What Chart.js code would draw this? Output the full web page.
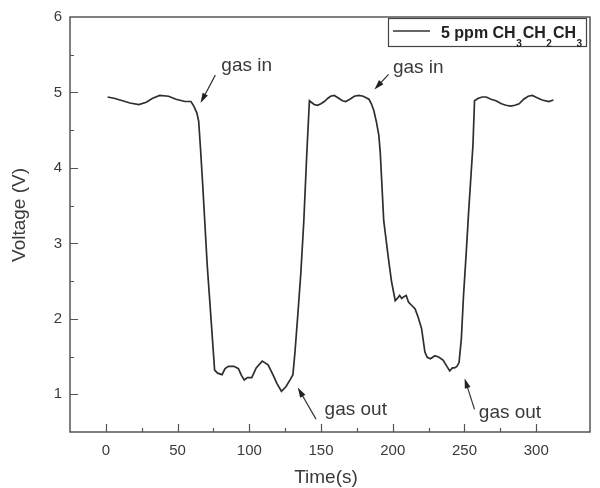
<!DOCTYPE html>
<html>
<head>
<meta charset="utf-8">
<script src="https://cdn.jsdelivr.net/npm/chart.js@4/dist/chart.umd.min.js"></script>
<style>
  html, body { margin: 0; padding: 0; background: #fff; }
</style>
</head>
<body>
<canvas id="chart" width="600" height="488"></canvas>
<script>
// sensor response
const timeSec = [
  1.2, 6.4, 11.6, 16.8, 23.0, 28.2, 32.3, 37.5, 43.7, 48.9, 55.1, 59.3, 61.3, 63.4, 64.7, 66.0, 67.5, 70.7, 73.5, 75.8,
  77.9, 81.0, 83.1, 85.5, 89.3, 92.4, 94.5, 96.5, 98.6, 101.7, 104.8, 109.0, 113.1, 116.2, 119.3, 122.4, 125.5, 128.7, 130.4, 131.8,
  133.8, 135.9, 138.0, 140.1, 141.9, 143.2, 145.2, 147.6, 149.9, 152.3, 154.6, 156.6, 159.2, 161.8, 164.9, 167.2, 170.1, 173.2, 176.3, 179.4,
  183.4, 185.1, 186.8, 188.7, 190.3, 191.3, 193.7, 197.1, 199.1, 201.7, 203.2, 204.8, 206.3, 207.5, 209.4, 211.0, 212.6, 215.6, 217.7, 220.1,
  222.4, 224.0, 226.3, 229.4, 232.3, 235.2, 237.4, 239.7, 241.6, 243.1, 244.7, 246.2, 247.8, 249.3, 251.2, 253.0, 254.7, 255.9, 257.0, 259.3,
  262.3, 265.1, 268.5, 271.9, 275.8, 278.9, 282.3, 285.1, 288.1, 291.3, 294.4, 297.3, 300.6, 304.2, 308.8, 312.0
];
const voltage = [
  4.94, 4.92, 4.89, 4.86, 4.84, 4.87, 4.92, 4.96, 4.95, 4.91, 4.88, 4.88, 4.82, 4.73, 4.62, 4.25, 3.78, 2.7, 1.95, 1.32,
  1.28, 1.26, 1.34, 1.37, 1.37, 1.34, 1.25, 1.19, 1.22, 1.22, 1.35, 1.44, 1.39, 1.27, 1.14, 1.04, 1.10, 1.20, 1.26, 1.55,
  2.05, 2.6, 3.3, 4.2, 4.89, 4.87, 4.84, 4.83, 4.85, 4.88, 4.92, 4.95, 4.96, 4.93, 4.89, 4.88, 4.91, 4.95, 4.96, 4.95,
  4.91, 4.85, 4.76, 4.6, 4.43, 4.2, 3.3, 2.78, 2.5, 2.24, 2.27, 2.31, 2.27, 2.29, 2.31, 2.22, 2.19, 2.13, 2.02, 1.87,
  1.56, 1.49, 1.47, 1.51, 1.49, 1.45, 1.38, 1.31, 1.35, 1.35, 1.37, 1.42, 1.73, 2.3, 2.87, 3.45, 3.95, 4.30, 4.89, 4.92,
  4.94, 4.94, 4.91, 4.89, 4.85, 4.83, 4.82, 4.83, 4.85, 4.91, 4.95, 4.96, 4.93, 4.90, 4.88, 4.90
];

const xLabelled = [0, 50, 100, 150, 200, 250, 300];
const yLabelled = [1, 2, 3, 4, 5, 6];

// legend: chemical formula pieces, sub = subscript
const legendParts = [
  { t: '5 ppm CH', sub: false }, { t: '3', sub: true },
  { t: 'CH', sub: false }, { t: '2', sub: true },
  { t: 'CH', sub: false }, { t: '3', sub: true }
];

// annotations, in data units (time, voltage)
const noteText  = ['gas in', 'gas in', 'gas out', 'gas out'];
const noteTextX = [80.5, 200.1, 152.5, 260.0];
const noteTextY = [5.35, 5.33, 0.79, 0.76];
const arrowTailX = [76.3, 197.1, 146.5, 257.0];
const arrowTailY = [5.23, 5.24, 0.67, 0.80];
const arrowHeadX = [66.0, 187.2, 133.8, 250.1];
const arrowHeadY = [4.86, 5.04, 1.09, 1.21];

const FONT = '"Liberation Sans", Arial, sans-serif';
const AXIS_COLOR = '#555';
const TEXT_COLOR = '#3a3a3a';

const decorPlugin = {
  id: 'decor',
  afterDraw(chart) {
    const { ctx, chartArea: a, scales } = chart;
    const xs = scales.x, ys = scales.y;
    ctx.save();

    // frame
    ctx.strokeStyle = AXIS_COLOR;
    ctx.lineWidth = 1.5;
    ctx.strokeRect(a.left, a.top, a.right - a.left, a.bottom - a.top);

    // inward ticks
    ctx.lineWidth = 1.2;
    ctx.beginPath();
    xs.ticks.forEach(t => {
      if (t.value <= xs.min || t.value >= xs.max) return;
      const px = Math.round(xs.getPixelForValue(t.value)) + 0.5;
      const len = xLabelled.includes(t.value) ? 8 : 4;
      ctx.moveTo(px, a.bottom);
      ctx.lineTo(px, a.bottom - len);
    });
    ys.ticks.forEach(t => {
      if (t.value <= ys.min || t.value >= ys.max) return;
      const py = Math.round(ys.getPixelForValue(t.value)) + 0.5;
      const len = yLabelled.includes(t.value) ? 8 : 4;
      ctx.moveTo(a.left, py);
      ctx.lineTo(a.left + len, py);
    });
    ctx.stroke();

    // axis titles
    ctx.fillStyle = TEXT_COLOR;
    ctx.font = '19px ' + FONT;
    ctx.textAlign = 'center';
    ctx.textBaseline = 'middle';
    ctx.fillText('Time(s)', 326, 478);
    ctx.save();
    ctx.translate(20, 215);
    ctx.rotate(-Math.PI / 2);
    ctx.fillText('Voltage (V)', 0, 0);
    ctx.restore();

    // legend box
    ctx.strokeStyle = '#444';
    ctx.lineWidth = 1.2;
    ctx.strokeRect(388.5, 18.5, 198, 28);
    ctx.strokeStyle = '#333';
    ctx.lineWidth = 1.6;
    ctx.beginPath();
    ctx.moveTo(393, 31);
    ctx.lineTo(430, 31);
    ctx.stroke();
    ctx.textAlign = 'left';
    ctx.textBaseline = 'alphabetic';
    ctx.fillStyle = '#222';
    let lx = 441;
    legendParts.forEach(p => {
      ctx.font = (p.sub ? 'bold 10px ' : 'bold 16px ') + FONT;
      ctx.fillText(p.t, lx, p.sub ? 47 : 38);
      lx += ctx.measureText(p.t).width + (p.sub ? 1 : 0.5);
    });

    // annotations with arrows
    ctx.font = '19px ' + FONT;
    ctx.textBaseline = 'middle';
    ctx.fillStyle = TEXT_COLOR;
    noteText.forEach((txt, i) => {
      ctx.fillText(txt, xs.getPixelForValue(noteTextX[i]), ys.getPixelForValue(noteTextY[i]));
      const x0 = xs.getPixelForValue(arrowTailX[i]), y0 = ys.getPixelForValue(arrowTailY[i]);
      const x1 = xs.getPixelForValue(arrowHeadX[i]), y1 = ys.getPixelForValue(arrowHeadY[i]);
      const ang = Math.atan2(y1 - y0, x1 - x0);
      ctx.strokeStyle = '#333';
      ctx.lineWidth = 1.2;
      ctx.beginPath();
      ctx.moveTo(x0, y0);
      ctx.lineTo(x1 - 6 * Math.cos(ang), y1 - 6 * Math.sin(ang));
      ctx.stroke();
      ctx.fillStyle = '#222';
      ctx.beginPath();
      ctx.moveTo(x1, y1);
      ctx.lineTo(x1 - 10 * Math.cos(ang) + 3 * Math.sin(ang), y1 - 10 * Math.sin(ang) - 3 * Math.cos(ang));
      ctx.lineTo(x1 - 10 * Math.cos(ang) - 3 * Math.sin(ang), y1 - 10 * Math.sin(ang) + 3 * Math.cos(ang));
      ctx.closePath();
      ctx.fill();
      ctx.fillStyle = TEXT_COLOR;
    });

    ctx.restore();
  }
};

new Chart(document.getElementById('chart'), {
  type: 'line',
  data: {
    datasets: [{
      label: '5 ppm CH3CH2CH3',
      data: timeSec.map((t, i) => ({ x: t, y: voltage[i] })),
      borderColor: '#2e2e2e',
      borderWidth: 1.7,
      pointRadius: 0,
      tension: 0,
      fill: false
    }]
  },
  options: {
    responsive: false,
    animation: false,
    devicePixelRatio: 1,
    layout: { padding: { left: 0, right: 5, top: 10, bottom: 0 } },
    plugins: {
      legend: { display: false },
      tooltip: { enabled: false }
    },
    scales: {
      x: {
        type: 'linear',
        min: -25,
        max: 337.5,
        afterFit: s => { s.height = 56; },
        border: { display: false },
        grid: { display: false, drawTicks: false },
        ticks: {
          stepSize: 25,
          autoSkip: false,
          maxRotation: 0,
          padding: 10,
          color: TEXT_COLOR,
          font: { family: FONT, size: 15 },
          callback: v => (xLabelled.includes(v) ? String(v) : '')
        }
      },
      y: {
        min: 0.5,
        max: 6,
        afterFit: s => { s.width = 70; },
        border: { display: false },
        grid: { display: false, drawTicks: false },
        ticks: {
          stepSize: 0.5,
          autoSkip: false,
          padding: 8,
          color: TEXT_COLOR,
          font: { family: FONT, size: 15 },
          callback: v => (yLabelled.includes(v) ? String(v) : '')
        }
      }
    }
  },
  plugins: [decorPlugin]
});
</script>
</body>
</html>
